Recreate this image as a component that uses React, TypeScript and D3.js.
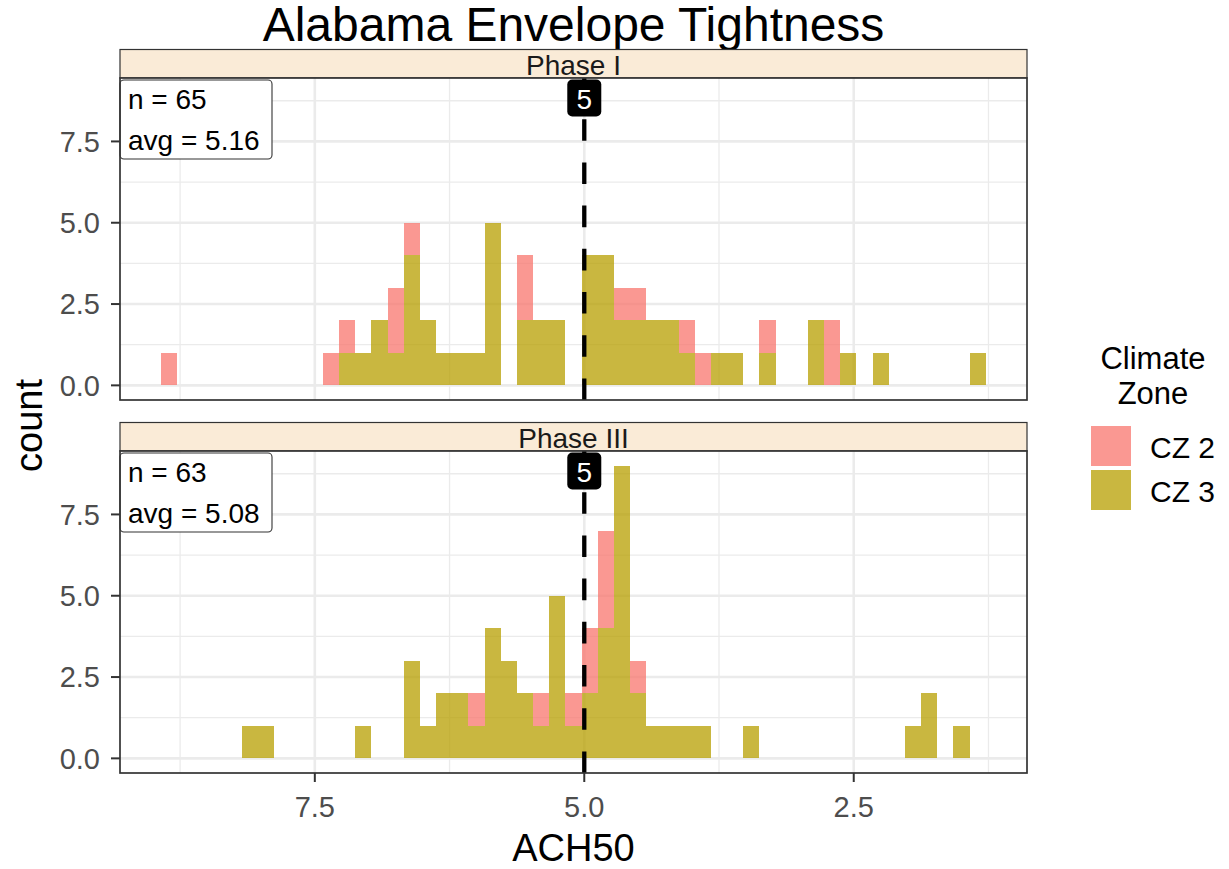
import React from "react";
import * as d3 from "d3";

// histogram bins: lower edge of bin j = binStart + j * binWidth (ascending ACH50)
const binStart = 1.275;
const binWidth = 0.15;

const zones = ["CZ 2", "CZ 3"];
const zoneColors = ["#F8766D", "#B79F00"];
const phases = ["Phase I", "Phase III"];
const phaseN = [65, 63];
const phaseAvg = ["5.16", "5.08"];
const refValue = 5;

const phase1Cz2 = [0,0,0,0,0,0,0,0,0,2, 0,0,0,1,0,0,0,1,1,0, 0,1,1,0,0,0,0,0,2,0, 0,0,0,0,0,1,2,0,0,1, 1,0,0,0,0,0,0,0,0,0, 1];
const phase1Cz3 = [1,0,0,0,0,0,1,0,1,0, 2,0,0,1,0,1,1,0,1,2, 2,2,2,4,4,0,2,2,2,0, 5,1,1,1,2,4,1,2,1,1, 0,0,0,0,0,0,0,0,0,0, 0];
const phase3Cz2 = [0,0,0,0,0,0,0,0,0,0, 0,0,0,0,0,0,0,0,0,0, 0,1,0,3,2,1,0,1,0,0, 0,1,0,0,0,0,0,0,0,0, 0,0,0,0,0,0,0,0,0,0, 0];
const phase3Cz3 = [0,1,0,2,1,0,0,0,0,0, 0,0,0,0,1,0,0,1,1,1, 1,2,9,4,2,1,5,1,2,3, 4,1,2,2,1,3,0,0,1,0, 0,0,0,0,1,1,0,0,0,0, 0];

const xTicks = [7.5, 5.0, 2.5];
const xMinor = [8.75, 6.25, 3.75, 1.25];
const yTicks = [0, 2.5, 5, 7.5];
const yMinor = [1.25, 3.75, 6.25, 8.75];

const font = "'Liberation Sans', Arial, Helvetica, sans-serif";

export default function App() {
  const width = 1229, height = 869;
  const left = 120, right = 1027;
  const panels = [
    { top: 78, bottom: 400, cz2: phase1Cz2, cz3: phase1Cz3 },
    { top: 451, bottom: 773, cz2: phase3Cz2, cz3: phase3Cz3 },
  ];
  const stripH = 28.5;

  const nBins = phase1Cz2.length;
  const hi = binStart + nBins * binWidth;
  const pad = (hi - binStart) * 0.05;
  // reversed x axis
  const x = d3.scaleLinear().domain([hi + pad, binStart - pad]).range([left, right]);
  const fmt = d3.format(".1f");

  const stack = d3.stack<any>().keys(["CZ 3", "CZ 2"]);

  return (
    <svg width={width} height={height} style={{ position: "absolute", left: 0, top: 0, background: "#fff" }} fontFamily={font}>
      <text x={(left + right) / 2} y={41} textAnchor="middle" fontSize={48} fill="#000">Alabama Envelope Tightness</text>

      {panels.map((p, pi) => {
        const y = d3.scaleLinear().domain([-0.45, 9.45]).range([p.bottom, p.top]);
        const rows = p.cz2.map((c, j) => ({ lo: binStart + j * binWidth, "CZ 2": c, "CZ 3": p.cz3[j] }));
        const series = stack(rows);
        const isLast = pi === panels.length - 1;
        return (
          <g key={pi}>
            {/* strip */}
            <rect x={left} y={p.top - stripH} width={right - left} height={stripH} fill="#FAEBD7" stroke="#333" strokeWidth={1.2} />
            <text x={(left + right) / 2} y={p.top - 3.5} textAnchor="middle" fontSize={28} fill="#1A1A1A">{phases[pi]}</text>

            {/* grid */}
            <rect x={left} y={p.top} width={right - left} height={p.bottom - p.top} fill="#fff" />
            {yMinor.map(v => <line key={"ym" + v} x1={left} x2={right} y1={y(v)} y2={y(v)} stroke="#EBEBEB" strokeWidth={1.3} />)}
            {xMinor.map(v => <line key={"xm" + v} x1={x(v)} x2={x(v)} y1={p.top} y2={p.bottom} stroke="#EBEBEB" strokeWidth={1.3} />)}
            {yTicks.map(v => <line key={"y" + v} x1={left} x2={right} y1={y(v)} y2={y(v)} stroke="#EBEBEB" strokeWidth={2.6} />)}
            {xTicks.map(v => <line key={"x" + v} x1={x(v)} x2={x(v)} y1={p.top} y2={p.bottom} stroke="#EBEBEB" strokeWidth={2.6} />)}

            {/* stacked bars */}
            {series.map(s => {
              const zi = zones.indexOf(s.key);
              return (
                <g key={s.key} fill={zoneColors[zi]} fillOpacity={0.75} shapeRendering="crispEdges">
                  {s.map((d, j) => d[1] - d[0] > 0 ? (
                    <rect key={j}
                      x={Math.round(x(d.data.lo + binWidth))}
                      width={Math.round(x(d.data.lo)) - Math.round(x(d.data.lo + binWidth))}
                      y={Math.round(y(d[1]))}
                      height={Math.round(y(d[0])) - Math.round(y(d[1]))} />
                  ) : null)}
                </g>
              );
            })}

            {/* reference line */}
            <line x1={x(refValue)} x2={x(refValue)} y1={p.bottom} y2={p.top} stroke="#000" strokeWidth={4.3} strokeDasharray="21.6 21.6" />
            <rect x={x(refValue) - 17} y={p.top + 1.5} width={34} height={37} rx={5} fill="#000" />
            <text x={x(refValue)} y={p.top + 31} textAnchor="middle" fontSize={28} fill="#fff">{refValue}</text>

            {/* n / avg label */}
            <rect x={left} y={p.top + 2} width={152} height={79} rx={4} fill="#fff" stroke="#333" strokeWidth={1.1} />
            <text x={left + 8} y={p.top + 31} fontSize={28} fill="#000">n = {phaseN[pi]}</text>
            <text x={left + 8} y={p.top + 72} fontSize={28} fill="#000">avg = {phaseAvg[pi]}</text>

            {/* panel border */}
            <rect x={left} y={p.top} width={right - left} height={p.bottom - p.top} fill="none" stroke="#333" strokeWidth={1.7} />

            {/* y axis */}
            {yTicks.map(v => (
              <g key={"yt" + v}>
                <line x1={left - 9} x2={left} y1={y(v)} y2={y(v)} stroke="#333" strokeWidth={2} />
                <text x={left - 20} y={y(v)} dy="0.36em" textAnchor="end" fontSize={29} fill="#4D4D4D">{fmt(v)}</text>
              </g>
            ))}

            {/* x axis on bottom panel only */}
            {isLast && xTicks.map(v => (
              <g key={"xt" + v}>
                <line x1={x(v)} x2={x(v)} y1={p.bottom} y2={p.bottom + 9} stroke="#333" strokeWidth={2} />
                <text x={x(v)} y={p.bottom + 43.5} textAnchor="middle" fontSize={29} fill="#4D4D4D">{fmt(v)}</text>
              </g>
            ))}
          </g>
        );
      })}

      {/* axis titles */}
      <text x={(left + right) / 2} y={861} textAnchor="middle" fontSize={38} fill="#000">ACH50</text>
      <text transform={`translate(42,${(78 + 773) / 2}) rotate(-90)`} textAnchor="middle" fontSize={38} fill="#000">count</text>

      {/* legend */}
      <g>
        <text x={1153} y={369} textAnchor="middle" fontSize={31} fill="#000">Climate</text>
        <text x={1153} y={404} textAnchor="middle" fontSize={31} fill="#000">Zone</text>
        {zones.map((z, i) => (
          <g key={z}>
            <rect x={1091} y={426 + i * 44} width={40} height={40} fill={zoneColors[i]} fillOpacity={0.75} />
            <text x={1150} y={458 + i * 44} fontSize={30} fill="#000">{z}</text>
          </g>
        ))}
      </g>
    </svg>
  );
}
